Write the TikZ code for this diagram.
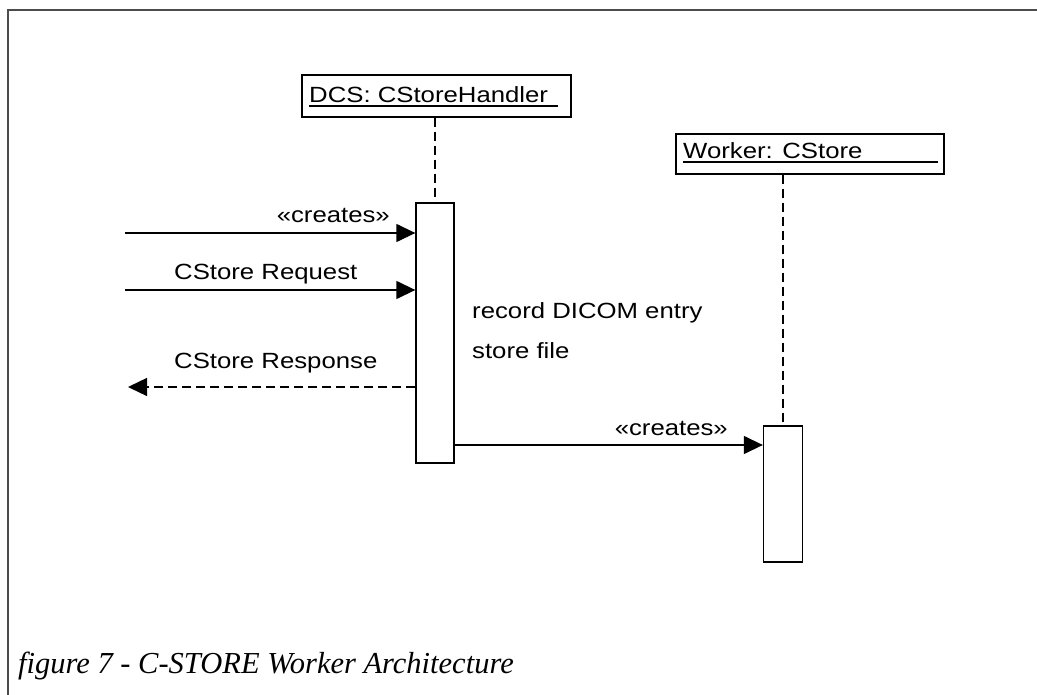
\documentclass[tikz,border=0pt]{standalone}
\usepackage{fontspec}
\usetikzlibrary{arrows.meta}
\newfontfamily\umlfont[FakeStretch=1.17]{Liberation Sans}
\newfontfamily\capfont{Liberation Serif}
\tikzset{
  objbox/.style={draw, line width=1.3pt, fill=white, inner sep=0pt},
  actbox/.style={draw, line width=1.3pt, fill=white, inner sep=0pt},
  lifeline/.style={line width=1.4pt, dash pattern=on 9pt off 5pt},
  msg/.style={line width=1.3pt, -{Triangle[length=19pt,width=18pt]}},
  reply/.style={line width=1.3pt, dash pattern=on 9pt off 5pt, -{Triangle[length=19pt,width=18pt]}},
  umltext/.style={font=\umlfont\fontsize{22}{26}\selectfont, inner sep=0pt},
  frameline/.style={line width=1.6pt, draw=black!70},
}
\begin{document}
\begin{tikzpicture}[x=1pt,y=-1pt]
\useasboundingbox (0,0) rectangle (1037,695);
\fill[white] (0,0) rectangle (1037,695);
% frame
\draw[frameline] (8,695) -- (8,10) -- (1037,10);
% objects
\node[objbox, minimum width=269pt, minimum height=42pt] (dcs) at (436.5,96) {};
\node[umltext, anchor=base west] (dcslbl) at (309,103) {DCS: CStoreHandler};
\draw[line width=1.2pt] (309,106) -- (558,106);
\node[objbox, minimum width=268pt, minimum height=40pt] (wrk) at (810,154) {};
\node[umltext, anchor=base west] (wrklbl) at (683,159) {Worker: CStore};
\draw[line width=1.2pt] (683,162) -- (938,162);
% activations
\node[actbox, minimum width=38pt, minimum height=260pt] (act1) at (435,333) {};
\node[actbox, minimum width=39pt, minimum height=136pt] (act2) at (783,494) {};
% lifelines
\draw[lifeline] (act1.north |- dcs.south) -- (act1.north);
\draw[lifeline] (act2.north |- wrk.south) -- (act2.north);
% messages
\coordinate (in1) at (125,233);
\coordinate (in2) at (125,290);
\coordinate (out1) at (128,387);
\draw[msg] (in1) -- (act1.west |- in1);
\draw[msg] (in2) -- (act1.west |- in2);
\draw[reply] (act1.west |- out1) -- (out1);
\draw[msg] (act1.east |- 0,445) -- (act2.west |- 0,445);
% labels
\node[umltext, anchor=base east] (l1) at (390,223) {«creates»};
\node[umltext, anchor=base west] (l2) at (174,280) {CStore Request};
\node[umltext, anchor=base west] (l3) at (174,368) {CStore Response};
\node[umltext, anchor=base east] (l4) at (728,435) {«creates»};
\node[umltext, anchor=base west] (n1) at (472,319) {record DICOM entry};
\node[umltext, anchor=base west] (n2) at (472,358) {store file};
% caption
\node[font=\capfont\itshape\fontsize{30.5}{34}\selectfont, inner sep=0pt, anchor=base west] (cap) at (18,673) {figure 7 - C-STORE Worker Architecture};
\end{tikzpicture}
\end{document}
